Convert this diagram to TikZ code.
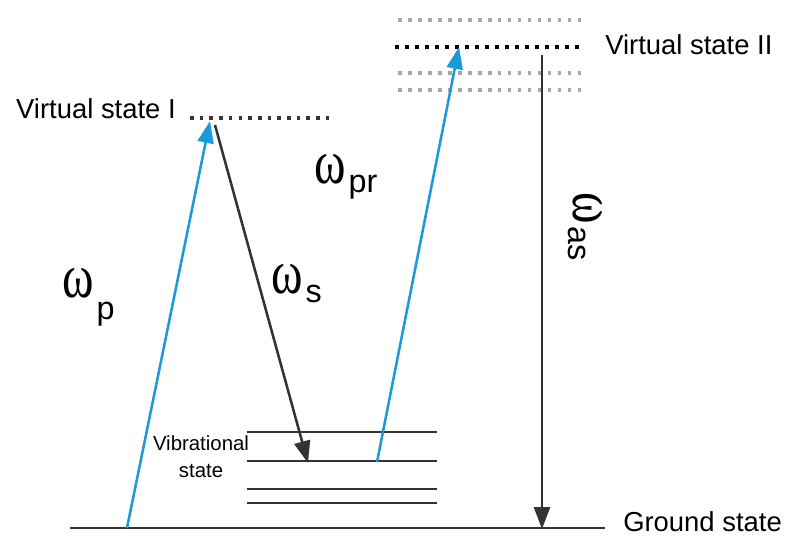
\documentclass[tikz,border=0pt]{standalone}
\usepackage{graphicx}
\usepackage{fontspec}
\setmainfont{Liberation Sans}
\newfontfamily\greekfont{Liberation Serif}
\usetikzlibrary{arrows.meta}
\definecolor{pumpblue}{HTML}{1A9AD8}
\definecolor{lvlgray}{HTML}{333333}
\definecolor{dotgray}{HTML}{A8A8A8}
\newcommand{\bigfont}{\fontsize{19.5}{21}\selectfont}
% omega with a lowered subscript: #1 = subscript, #2 = drop
\newcommand{\omg}[2]{\scalebox{1}[1.3]{\greekfont\fontsize{34}{34}\selectfont ω}\hspace{2pt}{\fontsize{23}{23}\selectfont\raisebox{-#2}{#1}}}

\begin{document}
\begin{tikzpicture}[x=0.025cm, y=-0.025cm, >={Triangle[length=5.5mm, width=4mm]}]

\useasboundingbox (0,0) rectangle (785,535);

% Ground state
\draw[lvlgray, line width=2pt] (70,528) coordinate (gl) -- (605,528) coordinate (gr);
\node[anchor=base west, inner sep=0, font=\bigfont] (ground) at (623,531) {Ground state};

% Vibrational levels
\foreach \y/\n in {432/v1, 461/v2, 489/v3, 503/v4}
  \draw[lvlgray, line width=2.1pt] (247,\y) -- (437,\y) coordinate (\n);
\node[align=center, inner sep=0, font=\fontsize{14.5}{19}\selectfont] (vib) at (201,457) {Vibrational\\state};

% Virtual state I
\draw[lvlgray, line width=2.6pt, dash pattern=on 2.6pt off 4.3pt] (190,118) -- (333,118);
\node[anchor=base east, inner sep=0, font=\bigfont] (virt1) at (176,118) {Virtual state I};

% Virtual state II and neighbours
\foreach \y in {20,73,90}
  \draw[dotgray, line width=2.6pt, dash pattern=on 2.6pt off 4.5pt] (398,\y) -- (582,\y);
\draw[black, line width=2.8pt, dash pattern=on 2.8pt off 4.3pt] (395,47) -- (580,47);
\node[anchor=base west, inner sep=0, font=\bigfont] (virt2) at (605,54) {Virtual state II};

% Arrow end points
\coordinate (pumpA) at (127,528);
\coordinate (pumpB) at (210,121);
\coordinate (stokesA) at (215,125);
\coordinate (stokesB) at (308,463);
\coordinate (probeA) at (377,462);
\coordinate (probeB) at (459,47);
\coordinate (asA) at (542,55);
\coordinate (asB) at (542,529);

% Transitions
\draw[pumpblue, ->, line width=1.8pt] (pumpA) -- (pumpB);
\draw[lvlgray, ->, line width=1.8pt] (stokesA) -- (stokesB);
\draw[pumpblue, ->, line width=1.8pt] (probeA) -- (probeB);
\draw[lvlgray, ->, line width=1.8pt] (asA) -- (asB);

% Frequency labels
\node[anchor=base west, inner sep=0] (wp) at (62,297) {\omg{p}{16pt}};
\node[anchor=base west, inner sep=0] (ws) at (271,293) {\omg{s}{6.4pt}};
\node[anchor=base west, inner sep=0] (wpr) at (314,183) {\omg{pr}{6.4pt}};
\node[anchor=base west, inner sep=0, rotate=-90] (was) at (573,192) {\omg{as}{3.5pt}};

\end{tikzpicture}
\end{document}
